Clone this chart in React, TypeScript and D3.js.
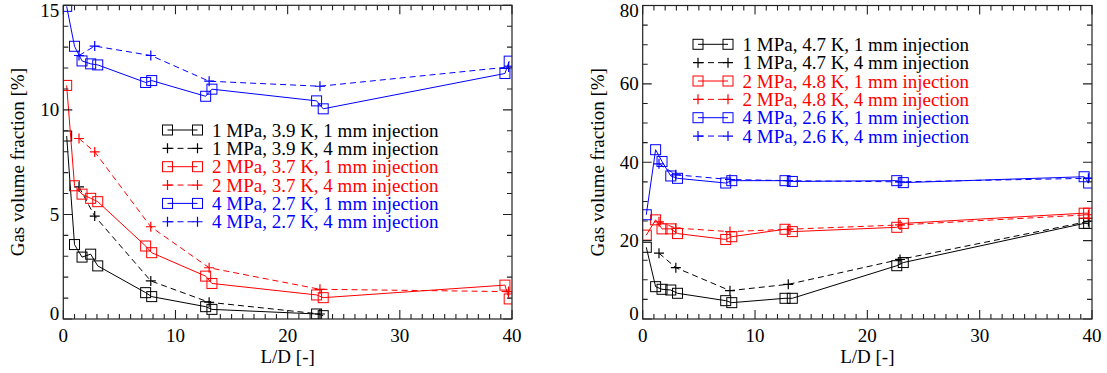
import React from 'react';
import * as d3 from 'd3';

// L/D positions (1 mm probes come in pairs, 4 mm ones are single)
const leftX1mm = [0.3, 1.0, 1.67, 2.44, 3.07, 7.34, 7.88, 12.69, 13.25, 22.58, 23.17, 39.37, 39.75];
const leftX4mm = [1.4, 2.8, 7.8, 13.0, 22.88, 39.7];
const rightX1mm = [0.32, 1.15, 1.72, 2.5, 3.1, 7.39, 7.93, 12.67, 13.32, 22.62, 23.2, 39.3, 39.7];
const rightX4mm = [1.45, 2.95, 7.77, 12.96, 22.91, 39.68];

// left panel values (%)
const left1MPa1mm = [8.75, 3.56, 2.96, 3.1, 2.54, 1.26, 1.07, 0.59, 0.46, 0.24, 0.16];
const left1MPa4mm = [6.32, 4.92, 1.82, 0.8, 0.24];
const left2MPa1mm = [11.17, 6.37, 5.97, 5.77, 5.61, 3.49, 3.17, 2.05, 1.7, 1.15, 1.02, 1.62, 0.96];
const left2MPa4mm = [8.63, 7.99, 4.41, 2.45, 1.42, 1.31];
const left4MPa1mm = [14.95, 13.04, 12.34, 12.2, 12.15, 11.31, 11.4, 10.65, 10.99, 10.43, 10.05, 11.74, 12.33];
const left4MPa4mm = [12.6, 13.05, 12.6, 11.37, 11.13, 12.05];

// right panel values (%)
const right1MPa1mm = [18.3, 8.25, 7.58, 7.4, 6.56, 4.68, 4.17, 5.28, 5.28, 13.6, 14.4, 24.4, 24.4];
const right1MPa4mm = [16.8, 13.1, 7.24, 8.85, 15.2, 24.9];
const right2MPa1mm = [21.4, 25.3, 23.0, 23.0, 21.8, 20.3, 21.0, 22.9, 22.3, 23.4, 24.4, 27.0, 27.0];
const right2MPa4mm = [24.8, 23.2, 22.3, 22.9, 24.0, 26.6];
const right4MPa1mm = [26.6, 43.2, 40.2, 36.5, 35.9, 34.7, 35.3, 35.3, 35.1, 35.3, 34.8, 36.3, 34.7];
const right4MPa4mm = [39.6, 36.8, 35.6, 35.3, 35.0, 35.9];

const leftLabels = [
  '1 MPa, 3.9 K, 1 mm injection',
  '1 MPa, 3.9 K, 4 mm injection',
  '2 MPa, 3.7 K, 1 mm injection',
  '2 MPa, 3.7 K, 4 mm injection',
  '4 MPa, 2.7 K, 1 mm injection',
  '4 MPa, 2.7 K, 4 mm injection',
];
const rightLabels = [
  '1 MPa, 4.7 K, 1 mm injection',
  '1 MPa, 4.7 K, 4 mm injection',
  '2 MPa, 4.8 K, 1 mm injection',
  '2 MPa, 4.8 K, 4 mm injection',
  '4 MPa, 2.6 K, 1 mm injection',
  '4 MPa, 2.6 K, 4 mm injection',
];

const colors = ['#000000', '#000000', '#ff0000', '#ff0000', '#0000ff', '#0000ff'];
const FONT = '"Liberation Serif", "Times New Roman", serif';
const FS = 19;

type Series = { x: number[]; y: number[]; color: string; dashed: boolean };

const Square = ({ cx, cy, color }: { cx: number; cy: number; color: string }) => (
  <rect x={cx - 5} y={cy - 5} width={10} height={10} fill="none" stroke={color} strokeWidth={1} />
);
const Plus = ({ cx, cy, color }: { cx: number; cy: number; color: string }) => (
  <path d={`M${cx - 5},${cy}H${cx + 5}M${cx},${cy - 5}V${cy + 5}`} stroke={color} strokeWidth={1.2} fill="none" />
);

const Panel = ({ id, x0, x1, y0, y1, yMax, yMajor, yMinor, series, labels, legX, legY, titleX }: any) => {
  const x = d3.scaleLinear().domain([0, 40]).range([x0, x1]);
  const y = d3.scaleLinear().domain([0, yMax]).range([y0, y1]);
  const xMaj = d3.range(0, 40.01, 10);
  const xMin = d3.range(0, 40.01, 1);
  const yMaj = d3.range(0, yMax + 0.01, yMajor);
  const yMin = d3.range(0, yMax + 0.01, yMinor);
  const line = d3.line<[number, number]>().x(d => x(d[0])).y(d => y(d[1]));
  const ticks: string[] = [];
  xMin.forEach(v => {
    const L = xMaj.includes(v) ? 9 : 5;
    ticks.push(`M${x(v)},${y0}V${y0 - L}M${x(v)},${y1}V${y1 + L}`);
  });
  yMin.forEach(v => {
    const L = yMaj.includes(v) ? 9 : 5;
    ticks.push(`M${x0},${y(v)}H${x0 + L}M${x1},${y(v)}H${x1 - L}`);
  });
  return (
    <g fontFamily={FONT} fontSize={FS}>
      <defs>
        <clipPath id={id}>
          <rect x={x0} y={y1} width={x1 - x0} height={y0 - y1} />
        </clipPath>
      </defs>
      <g clipPath={`url(#${id})`}>
        {series.map((s: Series, i: number) => {
          const pts = s.y.map((v, j) => [s.x[j], v] as [number, number]);
          return (
            <g key={i}>
              <path d={line(pts) || ''} fill="none" stroke={s.color} strokeWidth={1} strokeDasharray={s.dashed ? '6,4' : undefined} />
              {pts.map((p, j) =>
                s.dashed ? <Plus key={j} cx={x(p[0])} cy={y(p[1])} color={s.color} /> : <Square key={j} cx={x(p[0])} cy={y(p[1])} color={s.color} />
              )}
            </g>
          );
        })}
      </g>
      <rect x={x0} y={y1} width={x1 - x0} height={y0 - y1} fill="none" stroke="#222" strokeWidth={1.2} />
      <path d={ticks.join('')} stroke="#222" strokeWidth={1.1} fill="none" />
      {xMaj.map(v => (
        <text key={v} x={x(v)} y={342} textAnchor="middle">{v}</text>
      ))}
      {yMaj.map(v => {
        const c = Math.min(Math.max(y(v), y1 + 5), y0 - 6);
        return <text key={v} x={x0 - 4} y={c + 6.5} textAnchor="end">{v}</text>;
      })}
      <text x={(x0 + x1) / 2} y={363} textAnchor="middle">L/D [-]</text>
      <text transform={`translate(${titleX},${(y0 + y1) / 2}) rotate(-90)`} textAnchor="middle">Gas volume fraction [%]</text>
      {labels.map((lab: string, i: number) => {
        const cy = legY + i * 18.35;
        const s = series[i];
        return (
          <g key={i}>
            <line x1={legX} x2={legX + 30} y1={cy} y2={cy} stroke={s.color} strokeWidth={1} strokeDasharray={s.dashed ? '6,4' : undefined} />
            {s.dashed ? (
              <>
                <Plus cx={legX} cy={cy} color={s.color} />
                <Plus cx={legX + 30} cy={cy} color={s.color} />
              </>
            ) : (
              <>
                <Square cx={legX} cy={cy} color={s.color} />
                <Square cx={legX + 30} cy={cy} color={s.color} />
              </>
            )}
            <text x={legX + 44.5} y={cy + 6.5} fill={s.color}>{lab}</text>
          </g>
        );
      })}
    </g>
  );
};

export default function App() {
  const leftSeries: Series[] = [
    { x: leftX1mm, y: left1MPa1mm, color: colors[0], dashed: false },
    { x: leftX4mm, y: left1MPa4mm, color: colors[1], dashed: true },
    { x: leftX1mm, y: left2MPa1mm, color: colors[2], dashed: false },
    { x: leftX4mm, y: left2MPa4mm, color: colors[3], dashed: true },
    { x: leftX1mm, y: left4MPa1mm, color: colors[4], dashed: false },
    { x: leftX4mm, y: left4MPa4mm, color: colors[5], dashed: true },
  ];
  const rightSeries: Series[] = [
    { x: rightX1mm, y: right1MPa1mm, color: colors[0], dashed: false },
    { x: rightX4mm, y: right1MPa4mm, color: colors[1], dashed: true },
    { x: rightX1mm, y: right2MPa1mm, color: colors[2], dashed: false },
    { x: rightX4mm, y: right2MPa4mm, color: colors[3], dashed: true },
    { x: rightX1mm, y: right4MPa1mm, color: colors[4], dashed: false },
    { x: rightX4mm, y: right4MPa4mm, color: colors[5], dashed: true },
  ];
  return (
    <svg width={1107} height={373} style={{ position: 'absolute', left: 0, top: 0, background: '#fff' }}>
      <Panel id="clipL" x0={63.3} x1={512} y0={319} y1={5.3} yMax={15} yMajor={5} yMinor={1}
        series={leftSeries} labels={leftLabels} legX={167.5} legY={130} titleX={24} />
      <Panel id="clipR" x0={642.7} x1={1092} y0={319} y1={5.5} yMax={80} yMajor={20} yMinor={5}
        series={rightSeries} labels={rightLabels} legX={698} legY={44.3} titleX={603.5} />
    </svg>
  );
}
